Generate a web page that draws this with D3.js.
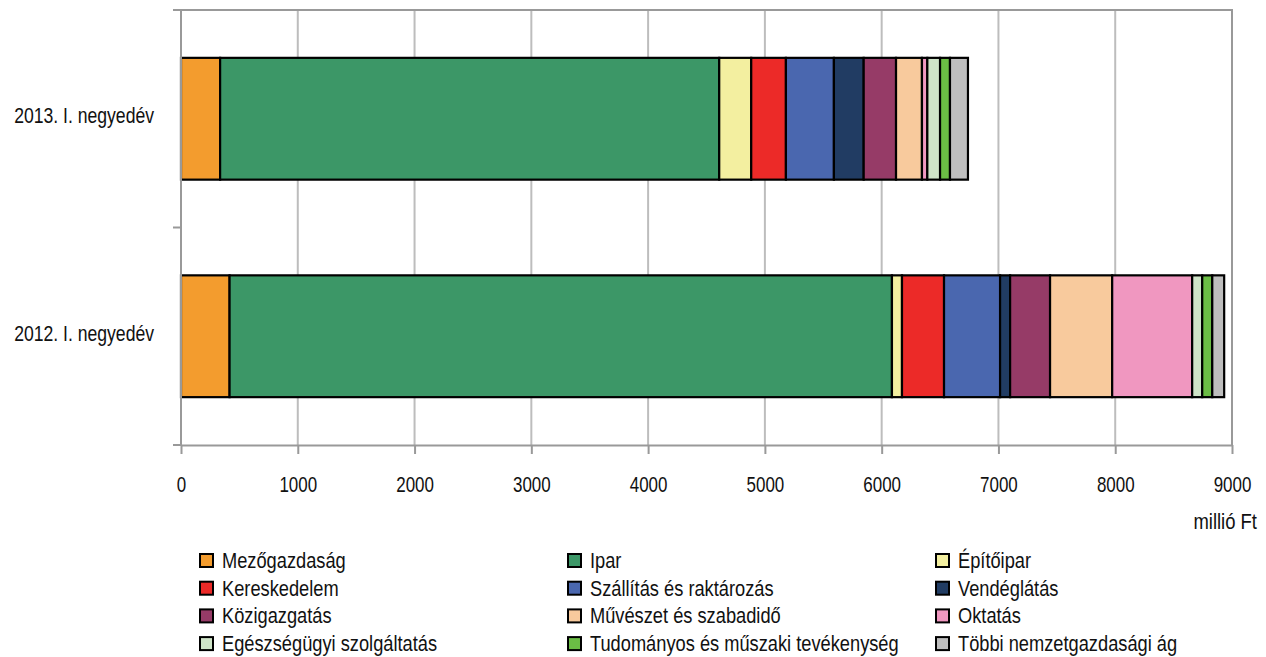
<!DOCTYPE html>
<html lang="hu">
<head>
    <meta charset="utf-8">
    <title>Nemzetgazdasági ágak</title>
    <script type="text/javascript" src="https://d3js.org/d3.v7.min.js"></script>
    <style>
        body { margin: 0; background: white; }
        text { font-family: "Liberation Sans", Arial, sans-serif; fill: #111; }
    </style>
</head>
<body>
<div id="chart"></div>
<script type="text/javascript">
    // data (millió Ft)
    const periods = ["2013. I. negyedév", "2012. I. negyedév"];
    const sectors = ["Mezőgazdaság", "Ipar", "Építőipar",
                     "Kereskedelem", "Szállítás és raktározás", "Vendéglátás",
                     "Közigazgatás", "Művészet és szabadidő", "Oktatás",
                     "Egészségügyi szolgáltatás", "Tudományos és műszaki tevékenység", "Többi nemzetgazdasági ág"];
    const colors = ["#F39C2E", "#3C9767", "#F3EFA0",
                    "#EC2A28", "#4A67AF", "#213C63",
                    "#963B67", "#F8CA9D", "#F097C0",
                    "#CFE4C8", "#6BBD45", "#BEBEBE"];
    const values2013 = [335, 4274, 274, 297, 411, 255, 277, 222, 46, 109, 85, 154];
    const values2012 = [416, 5672, 86, 360, 480, 86, 342, 532, 685, 86, 86, 102];
    const xTicks = [0, 1000, 2000, 3000, 4000, 5000, 6000, 7000, 8000, 9000];
    const unitLabel = "millió Ft";

    const W = 1266, H = 657;
    const pLeft = 181, pRight = 1232, pTop = 10, pBottom = 445;

    const svg = d3.select("#chart").append("svg")
        .attr("width", W).attr("height", H);

    // build rows for stacking
    const rows = periods.map((p, i) => {
        const vals = i === 0 ? values2013 : values2012;
        const r = { period: p };
        sectors.forEach((s, j) => r[s] = vals[j]);
        return r;
    });
    const series = d3.stack().keys(sectors)(rows);

    const x = d3.scaleLinear().domain([0, 9000]).range([pLeft, pRight]);
    const y = d3.scaleBand().domain(periods).range([pTop, pBottom])
        .paddingInner(0.44).paddingOuter(0.22);

    // condensed text helper (source text is narrow)
    function ntext(g, str, tx, ty, anchor, sx) {
        return g.append("text")
            .attr("transform", `translate(${tx},${ty}) scale(${sx},1)`)
            .attr("text-anchor", anchor)
            .style("font-size", "22px")
            .text(str);
    }

    // gridlines
    svg.append("g").selectAll("line")
        .data(xTicks.slice(1, -1))
        .enter().append("line")
        .attr("x1", d => x(d)).attr("x2", d => x(d))
        .attr("y1", pTop).attr("y2", pBottom)
        .attr("stroke", "#bdbdbd").attr("stroke-width", 2);

    // frame: top + right border
    svg.append("path")
        .attr("d", `M${pLeft - 8},${pTop}H${pRight}V${pBottom}`)
        .attr("fill", "none").attr("stroke", "#999").attr("stroke-width", 2);

    // bars
    svg.append("g").selectAll("g")
        .data(series)
        .enter().append("g")
        .attr("fill", (d, i) => colors[i])
        .selectAll("rect")
        .data(d => d)
        .enter().append("rect")
        .attr("x", d => x(d[0]))
        .attr("width", d => x(d[1]) - x(d[0]))
        .attr("y", d => y(d.data.period))
        .attr("height", y.bandwidth())
        .attr("stroke", "#000").attr("stroke-width", 2.2);

    // x axis
    const xAxis = svg.append("g")
        .attr("transform", `translate(0,${pBottom})`)
        .call(d3.axisBottom(x).tickValues(xTicks).tickSize(9).tickSizeOuter(0).tickPadding(0));
    xAxis.select(".domain").attr("stroke", "#999").attr("stroke-width", 2);
    xAxis.selectAll(".tick line").attr("stroke", "#999").attr("stroke-width", 2);
    xAxis.selectAll(".tick text").remove();
    xAxis.selectAll(".tick").each(function (d) {
        ntext(d3.select(this), d, 0, 47, "middle", 0.77);
    });

    // y axis line and ticks at band edges
    svg.append("line")
        .attr("x1", pLeft).attr("x2", pLeft).attr("y1", pTop).attr("y2", pBottom)
        .attr("stroke", "#999").attr("stroke-width", 2);
    const edges = [pTop, y(periods[1]) - y.step() * y.paddingInner() / 2, pBottom];
    svg.append("g").selectAll("line")
        .data(edges)
        .enter().append("line")
        .attr("x1", pLeft - 8).attr("x2", pLeft)
        .attr("y1", d => d).attr("y2", d => d)
        .attr("stroke", "#999").attr("stroke-width", 2);

    // y labels
    const yl = svg.append("g");
    periods.forEach(p => {
        ntext(yl, p, 154, y(p) + y.bandwidth() / 2 + 4.5, "end", 0.8);
    });

    // unit
    ntext(svg, unitLabel, 1257, 529, "end", 0.84);

    // legend
    const leg = svg.append("g");
    sectors.forEach((s, i) => {
        const col = i % 3, row = Math.floor(i / 3);
        const lx = 200 + col * 368, ly = 561 + row * 27.7;
        leg.append("rect")
            .attr("x", lx).attr("y", ly - 7)
            .attr("width", 13).attr("height", 13)
            .attr("fill", colors[i])
            .attr("stroke", "#000").attr("stroke-width", 2);
        ntext(leg, s, lx + 22, ly + 7, "start", 0.83);
    });
</script>
</body>
</html>
